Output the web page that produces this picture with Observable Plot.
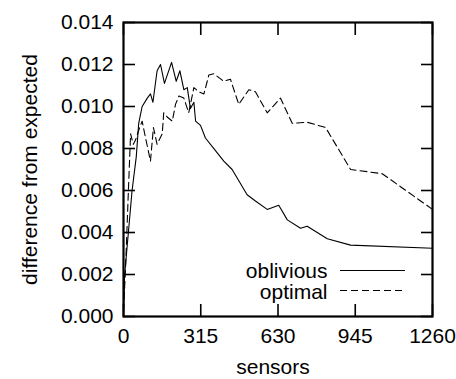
<!DOCTYPE html>
<html>
<head>
<meta charset="utf-8">
<script src="https://cdn.jsdelivr.net/npm/d3@7"></script>
<script src="https://cdn.jsdelivr.net/npm/@observablehq/plot@0.6"></script>
<style>
  html, body { margin: 0; padding: 0; background: #fff; }
  #chart { width: 456px; height: 379px; }
</style>
</head>
<body>
<div id="chart"></div>
<script>
const xTicks = [0, 315, 630, 945, 1260];
const yTicks = [0, 0.002, 0.004, 0.006, 0.008, 0.010, 0.012, 0.014];

const obliviousX = [0, 4, 35, 52, 62, 76, 97, 110, 120, 137, 151, 167, 196, 215, 230, 246, 260, 273, 287, 294, 314, 334, 375, 409, 443, 504, 538, 586, 633, 668, 722, 749, 831, 926, 1260];
const obliviousY = [0.0000, 0.0019, 0.0060, 0.0076, 0.0092, 0.0100, 0.0104, 0.0106, 0.0102, 0.0117, 0.0120, 0.0111, 0.0121, 0.0112, 0.0117, 0.0108, 0.0109, 0.0099, 0.0102, 0.0093, 0.0091, 0.0085, 0.0079, 0.0074, 0.0070, 0.0058, 0.0055, 0.0051, 0.0053, 0.0046, 0.0042, 0.0043, 0.0037, 0.0034, 0.00325];

const optimalX = [0, 8, 20, 29, 40, 49, 63, 76, 90, 110, 122, 137, 158, 164, 178, 199, 212, 226, 246, 266, 287, 307, 328, 348, 368, 409, 436, 470, 511, 538, 586, 640, 688, 749, 824, 926, 1055, 1260];
const optimalY = [0.0003, 0.0022, 0.0060, 0.0087, 0.0082, 0.0084, 0.0089, 0.0093, 0.0085, 0.0074, 0.0090, 0.0082, 0.0087, 0.0097, 0.0095, 0.0093, 0.0101, 0.0105, 0.0104, 0.0097, 0.0109, 0.0107, 0.0106, 0.0115, 0.01156, 0.0112, 0.0113, 0.0101, 0.0108, 0.0107, 0.0097, 0.0104, 0.0092, 0.00925, 0.0090, 0.0070, 0.0068, 0.0051];

const seriesNames = ["oblivious", "optimal"];
const xLabel = "sensors";
const yLabel = "difference from expected";

const oblivious = obliviousX.map((x, i) => ({x, y: obliviousY[i]}));
const optimal = optimalX.map((x, i) => ({x, y: optimalY[i]}));

const FONT = "'Liberation Sans', Arial, Helvetica, sans-serif";
const FS = 21;
const noText = () => "";

const chart = Plot.plot({
  width: 456,
  height: 379,
  marginLeft: 123,
  marginRight: 24,
  marginTop: 22,
  marginBottom: 63,
  style: {fontFamily: FONT, fontSize: FS + "px", color: "black", background: "white", overflow: "visible"},
  x: {domain: [0, 1260]},
  y: {domain: [0, 0.014]},
  marks: [
    // inward ticks on all four sides
    Plot.axisY({ticks: yTicks, anchor: "left", tickSize: 12, dx: 12, tickFormat: noText, label: null, strokeWidth: 1.6}),
    Plot.axisY({ticks: yTicks, anchor: "right", tickSize: 12, dx: -12, tickFormat: noText, label: null, strokeWidth: 1.6}),
    Plot.axisX({ticks: xTicks, anchor: "bottom", tickSize: 12, dy: -12, tickFormat: noText, label: null, strokeWidth: 1.6}),
    Plot.axisX({ticks: xTicks, anchor: "top", tickSize: 12, dy: 12, tickFormat: noText, label: null, strokeWidth: 1.6}),
    // tick labels
    Plot.axisY({ticks: yTicks, anchor: "left", tickSize: 0, tickPadding: 10, tickFormat: d3.format(".3f"), label: null, fontSize: FS}),
    Plot.axisX({ticks: xTicks, anchor: "bottom", tickSize: 0, tickPadding: 12, tickFormat: d => String(d), label: null, fontSize: FS}),
    Plot.frame({stroke: "black", strokeWidth: 2.2}),
    Plot.line(oblivious, {x: "x", y: "y", stroke: "black", strokeWidth: 1.1}),
    Plot.line(optimal, {x: "x", y: "y", stroke: "black", strokeWidth: 1.1, strokeDasharray: "7,4"}),
    // axis titles
    Plot.text([xLabel], {text: d => d, frameAnchor: "bottom", lineAnchor: "middle", dx: -5, dy: 51, fontSize: FS}),
    Plot.text([yLabel], {text: d => d, frameAnchor: "left", textAnchor: "middle", dx: -93, rotate: -90, fontSize: FS}),
    // legend labels
    Plot.text([seriesNames[0]], {text: d => d, frameAnchor: "bottom-right", lineAnchor: "middle", dx: -105, dy: -45, textAnchor: "end", fontSize: FS}),
    Plot.text([seriesNames[1]], {text: d => d, frameAnchor: "bottom-right", lineAnchor: "middle", dx: -105, dy: -24, textAnchor: "end", fontSize: FS})
  ]
});

// legend line samples
const svg = d3.select(chart);
svg.append("line").attr("x1", 340).attr("x2", 405).attr("y1", 270.5).attr("y2", 270.5)
  .attr("stroke", "black").attr("stroke-width", 1.1);
svg.append("line").attr("x1", 340).attr("x2", 405).attr("y1", 290.5).attr("y2", 290.5)
  .attr("stroke", "black").attr("stroke-width", 1.1).attr("stroke-dasharray", "7,4");

document.getElementById("chart").appendChild(chart);
</script>
</body>
</html>
